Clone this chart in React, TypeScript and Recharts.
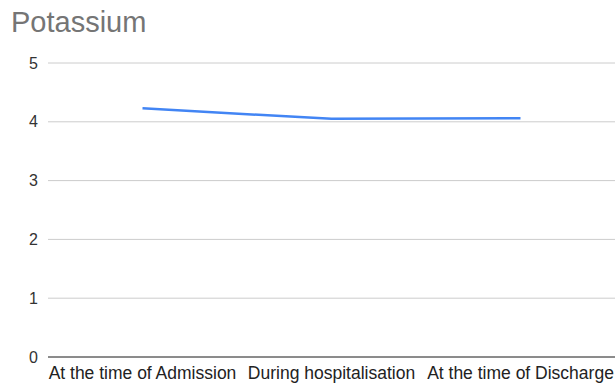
import { CartesianGrid, Line, LineChart, XAxis, YAxis } from "recharts";

const stages = ["At the time of Admission", "During hospitalisation", "At the time of Discharge"];
const potassium = [4.23, 4.05, 4.06];
const yTicks = [0, 1, 2, 3, 4, 5];

const data = stages.map((name, i) => ({ name, potassium: potassium[i] }));

const App = () => {
  return (
    <div style={{ position: "absolute", left: 0, top: 0, width: 615, height: 383, background: "#fff", fontFamily: "Arial, 'Liberation Sans', sans-serif" }}>
      <div style={{ position: "absolute", left: 11, top: 6, fontSize: 29, color: "#757575", lineHeight: "normal" }}>Potassium</div>
      <LineChart width={615} height={383} data={data} margin={{ top: 63, right: 0, left: 0, bottom: 0 }}>
        <CartesianGrid vertical={false} stroke="#cccccc" />
        <XAxis
          dataKey="name"
          scale="band"
          interval={0}
          height={26}
          tickLine={false}
          tickSize={0}
          tickMargin={10}
          axisLine={{ stroke: "#333333" }}
          fontSize={17.5}
          tick={{ fill: "#222222", fontSize: 17.5 }}
        />
        <YAxis
          domain={[0, 5]}
          ticks={yTicks}
          width={48}
          axisLine={false}
          tickLine={false}
          tickSize={0}
          tickMargin={10}
          fontSize={16}
          tick={{ fill: "#333333", fontSize: 16 }}
        />
        <Line type="linear" dataKey="potassium" stroke="#4285f4" strokeWidth={2.5} dot={false} isAnimationActive={false} />
      </LineChart>
    </div>
  );
};

export default App;
